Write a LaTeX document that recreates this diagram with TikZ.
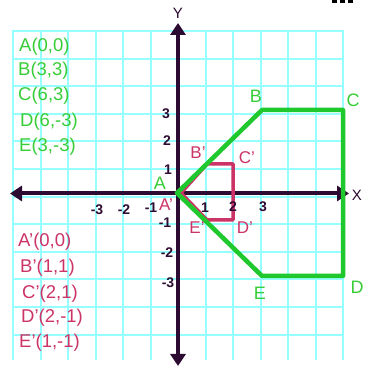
\documentclass[tikz,border=0pt]{standalone}
\usepackage{fontspec}
\setmainfont{Liberation Sans}
\usetikzlibrary{arrows.meta}
\definecolor{gridc}{RGB}{150,255,255}
\definecolor{grn}{RGB}{30,200,45}
\definecolor{grntxt}{RGB}{55,205,55}
\definecolor{pnk}{RGB}{204,51,102}
\definecolor{axc}{RGB}{45,10,50}
\tikzset{
  gridline/.style={draw=gridc,line width=2pt},
  axis/.style={draw=axc,line width=4pt,{Triangle[length=12pt,width=15pt]}-{Triangle[length=12pt,width=15pt]}},
  bigpoly/.style={draw=grn,line width=4.5pt,line join=round},
  smallpoly/.style={draw=pnk,line width=3.5pt,line join=round},
  gtxt/.style={text=grntxt,inner sep=0pt,font=\fontsize{18.5}{20}\selectfont},
  ptxt/.style={text=pnk,inner sep=0pt,font=\fontsize{18.5}{20}\selectfont},
  glab/.style={text=grntxt,inner sep=0pt,font=\fontsize{18}{20}\selectfont},
  plab/.style={text=pnk,inner sep=0pt,font=\fontsize{17}{19}\selectfont},
  tick/.style={text=axc,inner sep=0pt,font=\fontsize{14}{16}\selectfont\bfseries},
  axlab/.style={text=axc,inner sep=0pt,font=\fontsize{15}{17}\selectfont}
}
\begin{document}
\begin{tikzpicture}[x=1pt,y=-1pt]
\useasboundingbox (0,0) rectangle (373,366);
\fill[white] (0,0) rectangle (373,366);
% grid
\foreach \i in {0,...,12} \draw[gridline] ({13+27.5*\i},31) -- ({13+27.5*\i},360);
\foreach \j in {0,...,11} \draw[gridline] (12,{31+27.6*\j}) -- (344,{31+27.6*\j});
% cropped marks at top right
\fill[black] (332,0) rectangle (337,3);
\fill[black] (340,0) rectangle (345,3);
\fill[black] (348,0) rectangle (353,3);
% axes
\coordinate (ytop) at (178,23);
\coordinate (ybot) at (178,366);
\coordinate (xl) at (10,193.5);
\coordinate (xr) at (349,193.5);
\draw[axis] (ybot) -- (ytop);
\draw[axis] (xl) -- (xr);
% image polygon
\coordinate (Ap) at (181,193);
\coordinate (Bp) at (207,164);
\coordinate (Cp) at (233,164);
\coordinate (Dp) at (233,220);
\coordinate (Ep) at (207,220);
\draw[smallpoly] (Ap) -- (Bp) -- (Cp) -- (Dp) -- (Ep) -- cycle;
% original polygon
\coordinate (A) at (177,193);
\coordinate (B) at (262,110);
\coordinate (C) at (343,110);
\coordinate (D) at (343,276);
\coordinate (E) at (262,276);
\draw[bigpoly] (A) -- (B) -- (C) -- (D) -- (E) -- cycle;
% axis labels
\node[axlab] (ylab) at (178,13) {Y};
\node[axlab] (xlab) at (357,195) {X};
% ticks
\node[tick] (ty3) at (166,114) {3};
\node[tick] (ty2) at (167,141) {2};
\node[tick] (ty1) at (168,170) {1};
\node[tick] (tym1) at (165,223) {-1};
\node[tick] (tym2) at (167,253) {-2};
\node[tick] (tym3) at (168,283) {-3};
\node[tick] (txm3) at (97,210) {-3};
\node[tick] (txm2) at (124,210) {-2};
\node[tick] (txm1) at (151,208) {-1};
\node[tick] (tx1) at (205,208) {1};
\node[tick] (tx2) at (233,207) {2};
\node[tick] (tx3) at (263,207) {3};
% vertex labels
\node[glab] (lA) at (160,183) {A};
\node[glab] (lB) at (256,96) {B};
\node[glab] (lC) at (353,100) {C};
\node[glab] (lD) at (357,287) {D};
\node[glab] (lE) at (260,293) {E};
\node[plab] (lAp) at (166,205) {A'};
\node[plab] (lBp) at (198,153) {B'};
\node[plab] (lCp) at (247,158) {C'};
\node[plab] (lDp) at (245,228) {D'};
\node[plab] (lEp) at (197,228) {E'};
% coordinate lists
\node[gtxt,anchor=west] (gA) at (19,47) {A(0,0)};
\node[gtxt,anchor=west] (gB) at (18,71) {B(3,3)};
\node[gtxt,anchor=west] (gC) at (18,96) {C(6,3)};
\node[gtxt,anchor=west] (gD) at (20,122) {D(6,-3)};
\node[gtxt,anchor=west] (gE) at (19,147) {E(3,-3)};
\node[ptxt,anchor=west] (pA) at (18,242) {A'(0,0)};
\node[ptxt,anchor=west] (pB) at (20,268) {B'(1,1)};
\node[ptxt,anchor=west] (pC) at (22,294) {C'(2,1)};
\node[ptxt,anchor=west] (pD) at (21,318) {D'(2,-1)};
\node[ptxt,anchor=west] (pE) at (19,343) {E'(1,-1)};
\end{tikzpicture}
\end{document}
